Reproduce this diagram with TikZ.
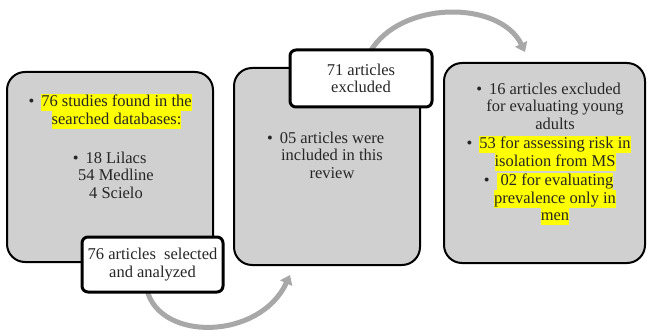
\documentclass[tikz,border=0pt]{standalone}
\usepackage{fontspec}
\setmainfont{Liberation Serif}
\usetikzlibrary{arrows.meta}
\definecolor{boxgray}{HTML}{D0D0D0}
\definecolor{arcgray}{HTML}{A8A8A8}
\definecolor{hly}{HTML}{FFFF00}
\definecolor{txt}{HTML}{262626}
\newcommand\hlt[1]{{\setlength{\fboxsep}{0pt}\colorbox{hly}{\rule[-4.5pt]{0pt}{17.5pt}#1}}}
\newcommand\bul{\llap{\textbullet\hspace{7pt}}}
\begin{document}
\begin{tikzpicture}[x=1pt,y=-1pt,
  mainbox/.style={draw=black, line width=2pt, fill=boxgray, rounded corners=18pt},
  callout/.style={draw=black, line width=3pt, fill=white, rounded corners=6pt},
  txtstyle/.style={font=\fontsize{16.5}{17.5}\selectfont, text=txt, align=center, inner sep=0pt},
  arcline/.style={draw=arcgray, line width=5pt, -{Triangle[length=9pt,width=13pt]}}]
\useasboundingbox (0,0) rectangle (647,331);
% connectors (drawn first, behind boxes)
\coordinate (a1s) at (370,52);
\coordinate (a1e) at (525,52);
\coordinate (a2s) at (147,290);
\coordinate (a2e) at (290,275);
\draw[arcline] (a1s) .. controls (400,0) and (500,0) .. (a1e);
\draw[arcline] (a2s) .. controls (160,342) and (260,340) .. (a2e);
% main boxes
\node[mainbox, minimum width=206pt, minimum height=190pt] (b1) at (110,167) {};
\node[mainbox, minimum width=186pt, minimum height=197pt] (b2) at (327,166.5) {};
\node[mainbox, minimum width=201pt, minimum height=200pt] (b3) at (544.5,163) {};
% callouts
\node[callout, minimum width=141pt, minimum height=55pt] (c1) at (152.5,264.5) {};
\node[callout, minimum width=142pt, minimum height=57pt] (c2) at (361,78.5) {};
% texts
\node[txtstyle] (t1a) at (116.5,111.5) {\bul\hlt{76 studies found in the}\\\hlt{searched databases:}};
\node[txtstyle] (t1b) at (116,175) {\bul 18 Lilacs\\54 Medline\\4 Scielo};
\node[txtstyle] (t2) at (332,155) {\bul 05 articles were\\included in this\\review};
\node[txtstyle] (t3) at (555,154) {\bul 16 articles excluded\\for evaluating young\\adults\\[2pt]
  \bul\hlt{53 for assessing risk in}\\\hlt{isolation from MS}\\[2pt]
  \bul\hlt{\ 02 for evaluating}\\\hlt{prevalence only in}\\\hlt{men}};
\node[txtstyle] (tc1) at (c1) {76 articles\ \ selected\\and analyzed};
\node[txtstyle] (tc2) at (c2) {71 articles\\excluded};
\end{tikzpicture}
\end{document}
